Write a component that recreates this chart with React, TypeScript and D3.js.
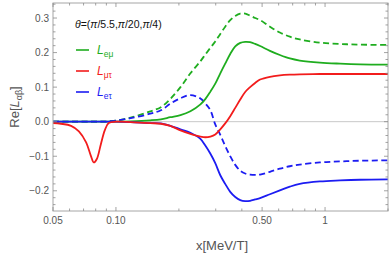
import React from 'react';
import * as d3 from 'd3';

// x values (MeV/T), shared by every curve
const xs = [
  0.05, 0.0546, 0.061, 0.0665, 0.072, 0.0758, 0.0784, 0.081, 0.0847, 0.0884, 0.0923, 0.1, 0.1175,
  0.146, 0.164, 0.182, 0.2035, 0.227, 0.2535, 0.268, 0.283, 0.2985, 0.3155, 0.333, 0.352, 0.372,
  0.393, 0.415, 0.438, 0.463, 0.489, 0.545, 0.608, 0.679, 0.757, 0.945, 1.18, 1.47, 2.0,
];

const emuSolid = [
  0, 0, 0, 0, 0, 0, 0, 0, 0, 0, 0, 0, 0.001, 0.004, 0.007, 0.013, 0.019, 0.03, 0.05, 0.066, 0.087,
  0.11, 0.14, 0.168, 0.196, 0.218, 0.228, 0.231, 0.23, 0.225, 0.219, 0.205, 0.193, 0.183, 0.177,
  0.171, 0.168, 0.166, 0.165,
];
const emuDashed = [
  0, 0, 0, 0, 0, 0, 0, 0, 0, 0, 0.001, 0.003, 0.012, 0.03, 0.042, 0.066, 0.1, 0.14, 0.175, 0.195,
  0.214, 0.232, 0.254, 0.275, 0.294, 0.306, 0.313, 0.313, 0.307, 0.3, 0.294, 0.275, 0.258, 0.246,
  0.238, 0.229, 0.225, 0.223, 0.222,
];
const mutau = [
  -0.004, -0.006, -0.012, -0.028, -0.06, -0.098, -0.118, -0.108, -0.065, -0.025, -0.004, 0.0, -0.001,
  -0.004, -0.006, -0.012, -0.025, -0.035, -0.043, -0.045, -0.043, -0.037, -0.022, -0.005, 0.016,
  0.04, 0.064, 0.086, 0.1, 0.112, 0.122, 0.13, 0.134, 0.136, 0.137, 0.138, 0.138, 0.138, 0.138,
];
const etauSolid = [
  0, 0, 0, 0, 0, 0, 0, 0, 0, 0, 0, 0, -0.001, -0.004, -0.005, -0.012, -0.022, -0.032, -0.05, -0.07,
  -0.093, -0.12, -0.155, -0.18, -0.203, -0.218, -0.227, -0.23, -0.229, -0.225, -0.221, -0.21,
  -0.199, -0.188, -0.18, -0.173, -0.17, -0.168, -0.167,
];
const etauDashed = [
  0, 0, 0, 0, 0, 0, 0, 0, 0, 0, 0.001, 0.003, 0.01, 0.023, 0.033, 0.052, 0.068, 0.077, 0.067, 0.052,
  0.033, -0.008, -0.038, -0.07, -0.1, -0.125, -0.142, -0.15, -0.153, -0.154, -0.153, -0.145, -0.136,
  -0.129, -0.124, -0.118, -0.115, -0.113, -0.112,
];

const xMajor = [0.05, 0.1, 0.5, 1];
const xLabels = ['0.05', '0.10', '0.50', '1'];
const xMinor = [0.06, 0.07, 0.08, 0.09, 0.2, 0.3, 0.4, 0.6, 0.7, 0.8, 0.9, 2];
const yMajor = [-0.2, -0.1, 0, 0.1, 0.2, 0.3];
const yLabels = ['\u22120.2', '\u22120.1', '0.0', '0.1', '0.2', '0.3'];

const GREEN = '#1fad1f';
const RED = '#f21c1c';
const BLUE = '#1c1cf2';

const series = [
  { values: emuDashed, color: GREEN, dashed: true },
  { values: etauDashed, color: BLUE, dashed: true },
  { values: emuSolid, color: GREEN, dashed: false },
  { values: etauSolid, color: BLUE, dashed: false },
  { values: mutau, color: RED, dashed: false },
];

const legend = [
  { sub: 'e\u03bc', color: GREEN },
  { sub: '\u03bc\u03c4', color: RED },
  { sub: 'e\u03c4', color: BLUE },
];

const App = () => {
  const width = 390;
  const height = 255;
  const left = 53;
  const right = 388;
  const top = 3;
  const bottom = 211;

  const x = d3.scaleLog().domain([0.05, 2]).range([left, right]);
  const y = d3.scaleLinear().domain([-0.2585, 0.3435]).range([bottom, top]);

  const line = d3
    .line<number>()
    .x((_, i) => x(xs[i]))
    .y((d) => y(d))
    .curve(d3.curveCatmullRom.alpha(0.5));

  const yMinor = d3.range(-0.24, 0.341, 0.02).filter((v) => Math.abs(Math.round(v * 50) % 5) !== 0);

  const frame = '#a6a6a6';
  const tickColor = '#8c8c8c';
  const labelColor = '#555';
  const font = '"Liberation Sans", Arial, sans-serif';

  return (
    <svg
      width={width}
      height={height}
      style={{ position: 'absolute', left: 0, top: 0, background: '#fff' }}
      fontFamily={font}
    >
      {/* zero line */}
      <line x1={left} x2={right} y1={y(0)} y2={y(0)} stroke="#c8c8c8" strokeWidth={1} />

      {/* curves */}
      <g fill="none" strokeWidth={1.8}>
        {series.map((s, i) => (
          <path
            key={i}
            d={line(s.values) || ''}
            stroke={s.color}
            strokeDasharray={s.dashed ? '6,3.5' : undefined}
          />
        ))}
      </g>

      {/* frame */}
      <rect x={left} y={top} width={right - left} height={bottom - top} fill="none" stroke={frame} strokeWidth={1} />

      {/* ticks */}
      <g stroke={tickColor} strokeWidth={0.8}>
        {xMajor.map((v) => (
          <g key={'xM' + v}>
            <line x1={x(v)} x2={x(v)} y1={bottom} y2={bottom - 4} />
            <line x1={x(v)} x2={x(v)} y1={top} y2={top + 4} />
          </g>
        ))}
        {xMinor.map((v) => (
          <g key={'xm' + v}>
            <line x1={x(v)} x2={x(v)} y1={bottom} y2={bottom - 2.5} />
            <line x1={x(v)} x2={x(v)} y1={top} y2={top + 2.5} />
          </g>
        ))}
        {yMajor.map((v) => (
          <g key={'yM' + v}>
            <line x1={left} x2={left + 4} y1={y(v)} y2={y(v)} />
            <line x1={right} x2={right - 4} y1={y(v)} y2={y(v)} />
          </g>
        ))}
        {yMinor.map((v) => (
          <g key={'ym' + v}>
            <line x1={left} x2={left + 2.5} y1={y(v)} y2={y(v)} />
            <line x1={right} x2={right - 2.5} y1={y(v)} y2={y(v)} />
          </g>
        ))}
      </g>

      {/* tick labels */}
      <g fontSize={10} fill={labelColor}>
        {xMajor.map((v, i) => (
          <text key={'xl' + v} x={x(v)} y={bottom + 13} textAnchor="middle">
            {xLabels[i]}
          </text>
        ))}
        {yMajor.map((v, i) => (
          <text key={'yl' + v} x={left - 4} y={y(v) + 3.5} textAnchor="end">
            {yLabels[i]}
          </text>
        ))}
      </g>

      {/* axis titles */}
      <text x={222} y={250} textAnchor="middle" fontSize={13} fill={labelColor}>
        x[MeV/T]
      </text>
      <text
        transform={`translate(19, ${107}) rotate(-90)`}
        textAnchor="middle"
        fontSize={13}
        fill={labelColor}
      >
        Re[<tspan fontStyle="italic">L</tspan>
        <tspan fontSize={9} dy={3}>
          {'\u03b1\u03b2'}
        </tspan>
        <tspan dy={-3}>]</tspan>
      </text>

      {/* legend */}
      <text x={75} y={28} fontSize={10.5} fill="#111">
        <tspan fontStyle="italic">{'\u03b8'}</tspan>=(<tspan fontStyle="italic">{'\u03c0'}</tspan>/5.5,
        <tspan fontStyle="italic">{'\u03c0'}</tspan>/20,<tspan fontStyle="italic">{'\u03c0'}</tspan>/4)
      </text>
      {legend.map((l, i) => {
        const ly = 50 + i * 21;
        return (
          <g key={l.sub}>
            <line x1={76} x2={89} y1={ly} y2={ly} stroke={l.color} strokeWidth={1.6} />
            <text x={97} y={ly + 4} fontSize={12} fill={l.color}>
              <tspan fontStyle="italic">L</tspan>
              <tspan fontSize={8.5} dy={3}>
                {l.sub}
              </tspan>
            </text>
          </g>
        );
      })}
    </svg>
  );
};

export default App;
